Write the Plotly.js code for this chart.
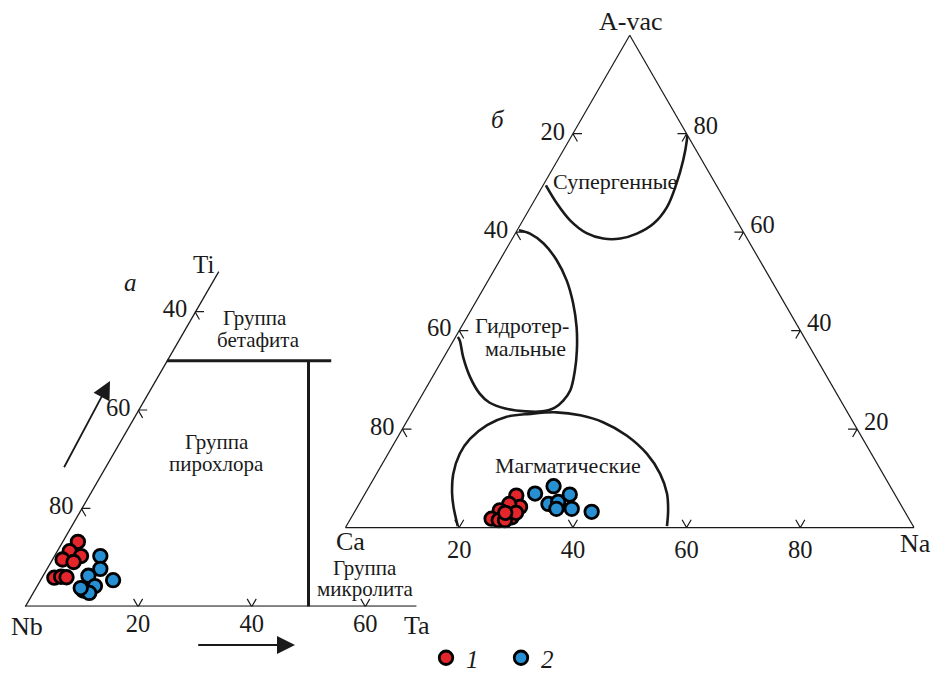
<!DOCTYPE html>
<html><head><meta charset="utf-8">
<script src="https://cdn.plot.ly/plotly-3.0.1.min.js"></script>
<style>html,body{margin:0;padding:0;background:#fff}#chart{width:935px;height:681px}</style>
</head><body><div id="chart"></div>
<script>
// ===== Diagram а : Ti (top) – Nb (bottom-left) – Ta (bottom-right), values in %
const aRedTi  = [13.2, 11.3, 10.3, 9.6, 9.1, 5.9, 6.1, 6.0];
const aRedTa  = [2.8, 2.3, 4.8, 1.9, 4.1, 2.3, 3.4, 4.4];
const aBlueTi = [10.3, 7.7, 6.3, 5.4, 4.2, 3.3, 2.8, 3.8];
const aBlueTa = [8.2, 9.5, 8.1, 12.9, 10.3, 8.7, 10.0, 8.0];
// group boundaries (Ti, Ta)
const betafiteTi = [50, 50], betafiteTa = [0, 29];
const microliteTi = [50, 0], microliteTa = [25, 50];
// visible (truncated) edges
const aLeftEdgeTi = [0, 68.2], aLeftEdgeTa = [0, 0];
const aBottomEdgeTi = [0, 0], aBottomEdgeTa = [0, 69];
// ticks: left edge at Ti values, labelled with Nb; bottom edge at Ta values
const aLeftTickTi = [20, 40, 60], aLeftTickText = ['80', '60', '40'];
const aBottomTickTa = [20, 40, 60], aBottomTickText = ['20', '40', '60'];

// ===== Diagram б : A-vac (top) – Ca (bottom-left) – Na (bottom-right)
const bRedAvac  = [6.5, 4.2, 4.8, 3.5, 2.1, 1.8, 1.5, 1.5, 3.0, 3.0];
const bRedNa    = [26.8, 28.6, 26.4, 25.4, 28.2, 24.8, 26.2, 27.3, 28.5, 26.6];
const bBlueAvac = [6.9, 8.4, 6.7, 4.8, 5.2, 3.8, 3.8, 3.2];
const bBlueNa   = [29.9, 32.4, 36.1, 33.3, 34.8, 35.2, 37.9, 41.7];
// field boundaries (A-vac, Na)
const superAvac = [69.5, 65.8, 62.4, 59.8, 58.7, 58.7, 59.7, 61.7, 65.1, 69.8, 74.6, 78.7, 79.8];
const superNa   = [0.5, 4.3, 8.3, 12.5, 16.0, 19.0, 21.4, 23.3, 24.0, 23.3, 22.1, 20.7, 20.2];
const hydroAvac = [60.4, 59.7, 57.7, 54.3, 50.2, 45.5, 40.7, 36.0, 31.9, 27.9, 25.8, 24.3, 23.6, 23.6, 24.2, 25.4, 27.2, 30.6, 34.6, 38.0, 38.7];
const hydroNa   = [0.3, 2.6, 6.0, 10.0, 13.8, 17.3, 20.3, 22.7, 24.4, 25.6, 25.4, 24.6, 22.8, 19.9, 16.0, 12.6, 10.0, 6.6, 3.4, 1.1, 0.4];
const magmaAvac = [0.3, 4.2, 6.9, 10.9, 15.0, 18.0, 20.8, 22.5, 23.1, 23.4, 22.8, 21.4, 18.7, 15.0, 10.9, 6.9, 3.5, 0.3];
const magmaNa   = [19.6, 16.9, 15.3, 13.5, 12.6, 12.9, 14.5, 17.1, 20.9, 25.4, 29.9, 34.6, 40.1, 45.5, 49.9, 53.1, 55.0, 56.4];
// ticks
const bLeftTickAvac = [80, 60, 40, 20], bLeftTickText = ['20', '40', '60', '80'];     // labelled with Ca
const bRightTickAvac = [80, 60, 40, 20], bRightTickText = ['80', '60', '40', '20'];   // labelled with A-vac
const bBottomTickNa = [20, 40, 60, 80], bBottomTickText = ['20', '40', '60', '80'];   // labelled with Na

// legend names
const seriesNames = ['<i>1</i>', '<i>2</i>'];

// ===== styling
const RED = '#e2262b', BLUE = '#2790d3', INK = '#1a1a1a';
const FONT = 'Liberation Serif';
const W = 935, H = 681;
const px = x => x / W, py = y => 1 - y / H;
const D = 1.6; // chevron arm length (ternary units)

function chevrons(points) {
  const A = [], C = [];
  points.forEach(t => { t.forEach(p => { A.push(p[0]); C.push(p[1]); }); A.push(null); C.push(null); });
  return {A, C};
}
const leftChev  = vals => vals.map(v => [[v, D], [v, 0], [v - D, D]]);
const rightChev = vals => vals.map(v => [[v, 100 - v - D], [v, 100 - v], [v - D, 100 - v]]);
const botChev   = vals => vals.map(v => [[D, v - D], [0, v], [D, v]]);

const chevA = chevrons(leftChev(aLeftTickTi).concat(botChev(aBottomTickTa)));
const chevB = chevrons(leftChev(bLeftTickAvac).concat(rightChev(bRightTickAvac), botChev(bBottomTickNa)));

function line(sub, a, c, width, shape) {
  return {type: 'scatterternary', subplot: sub, mode: 'lines', a: a, c: c, showlegend: false, hoverinfo: 'skip',
    line: {color: INK, width: width, shape: shape || 'linear', smoothing: 1}};
}
function pts(sub, a, c, color, name, show) {
  return {type: 'scatterternary', subplot: sub, mode: 'markers', a: a, c: c, name: name, legendgroup: name,
    showlegend: show, cliponaxis: false,
    marker: {size: 13.5, color: color, line: {color: '#000', width: 2.8}}};
}

const traces = [
  line('ternary', aLeftEdgeTi, aLeftEdgeTa, 2.6),
  line('ternary', aBottomEdgeTi, aBottomEdgeTa, 2.6),
  line('ternary', betafiteTi, betafiteTa, 3),
  line('ternary', microliteTi, microliteTa, 3),
  line('ternary', chevA.A, chevA.C, 1.2),
  line('ternary2', superAvac, superNa, 2.6, 'spline'),
  line('ternary2', hydroAvac, hydroNa, 2.6, 'spline'),
  line('ternary2', magmaAvac, magmaNa, 2.6, 'spline'),
  line('ternary2', chevB.A, chevB.C, 1.2),
  pts('ternary', aRedTi, aRedTa, RED, seriesNames[0], true),
  pts('ternary', aBlueTi, aBlueTa, BLUE, seriesNames[1], true),
  pts('ternary2', bRedAvac, bRedNa, RED, seriesNames[0], false),
  pts('ternary2', bBlueAvac, bBlueNa, BLUE, seriesNames[1], false)
];

const tickFont = {family: FONT, size: 24.5, color: INK};
function ax(opts) {
  return Object.assign({min: 0, showgrid: false, showline: false, ticks: 'outside', ticklen: 4,
    tickcolor: 'rgba(0,0,0,0)', tickfont: tickFont, tickmode: 'array', title: {text: ''},
    linecolor: INK, linewidth: 1.2}, opts);
}

function ann(text, x, y, size, extra) {
  return Object.assign({text: text, x: px(x), y: py(y), xref: 'paper', yref: 'paper', showarrow: false,
    xanchor: 'center', yanchor: 'middle', borderpad: 0, font: {family: FONT, size: size, color: INK}}, extra || {});
}
function arrow(tx, ty, fx, fy) {
  return {text: '', x: px(tx), y: py(ty), xref: 'paper', yref: 'paper', showarrow: true,
    ax: fx - tx, ay: fy - ty, arrowhead: 2, arrowsize: 2, arrowwidth: 1.8, arrowcolor: INK};
}

const layout = {
  width: W, height: H, margin: {l: 0, r: 0, t: 0, b: 0},
  paper_bgcolor: '#fff', font: {family: FONT, color: INK},
  ternary: {
    sum: 100, bgcolor: 'rgba(0,0,0,0)',
    domain: {x: [px(24.5), px(592.5)], y: [0.0947, 0.8347]},
    aaxis: ax({tickvals: aLeftTickTi, ticktext: aLeftTickText}),
    baxis: ax({ticks: '', tickvals: aBottomTickTa.map(v => 100 - v), ticktext: aBottomTickText}),
    caxis: ax({showticklabels: false, ticks: ''})
  },
  ternary2: {
    sum: 100, bgcolor: 'rgba(0,0,0,0)',
    domain: {x: [px(345.5), px(914)], y: [0.2125, 0.9525]},
    aaxis: ax({showline: true, tickvals: bLeftTickAvac, ticktext: bLeftTickText}),
    baxis: ax({showline: true, ticks: '', tickvals: bBottomTickNa.map(v => 100 - v), ticktext: bBottomTickText}),
    caxis: ax({showline: true, ticklen: 6, tickvals: bRightTickAvac.map(v => 100 - v), ticktext: bRightTickText})
  },
  showlegend: true,
  legend: {orientation: 'h', x: px(426), y: py(665), xanchor: 'left', yanchor: 'middle',
    entrywidth: 30, entrywidthmode: 'pixels',
    font: {family: FONT, size: 25, color: INK}, bgcolor: 'rgba(0,0,0,0)', itemclick: false},
  annotations: [
    ann('Ti', 203, 267, 25),
    ann('<i>а</i>', 130, 285, 25),
    ann('Nb', 27, 633, 26),
    ann('Ta', 416.7, 632, 26),
    ann('Группа', 255, 321.5, 21), ann('бетафита', 258, 343.5, 21),
    ann('Группа', 216.7, 446.5, 21), ann('пирохлора', 216.7, 468.5, 21),
    ann('Группа', 365, 574, 21), ann('микролита', 365, 595.5, 21),
    ann('A-vac', 631, 22, 26),
    ann('<i>б</i>', 497.8, 121, 25),
    ann('Ca', 350, 547, 26),
    ann('Na', 915, 549, 26),
    ann('Супергенные', 615, 183.3, 22),
    ann('Гидротер-', 521.7, 329, 22), ann('мальные', 525, 352, 22),
    ann('Магматические', 568.3, 470.7, 22),
    arrow(110, 385, 63.3, 472.7),
    arrow(295, 651.7, 196.7, 651.7)
  ]
};

Plotly.newPlot('chart', traces, layout, {staticPlot: true, displayModeBar: false});
</script></body></html>
